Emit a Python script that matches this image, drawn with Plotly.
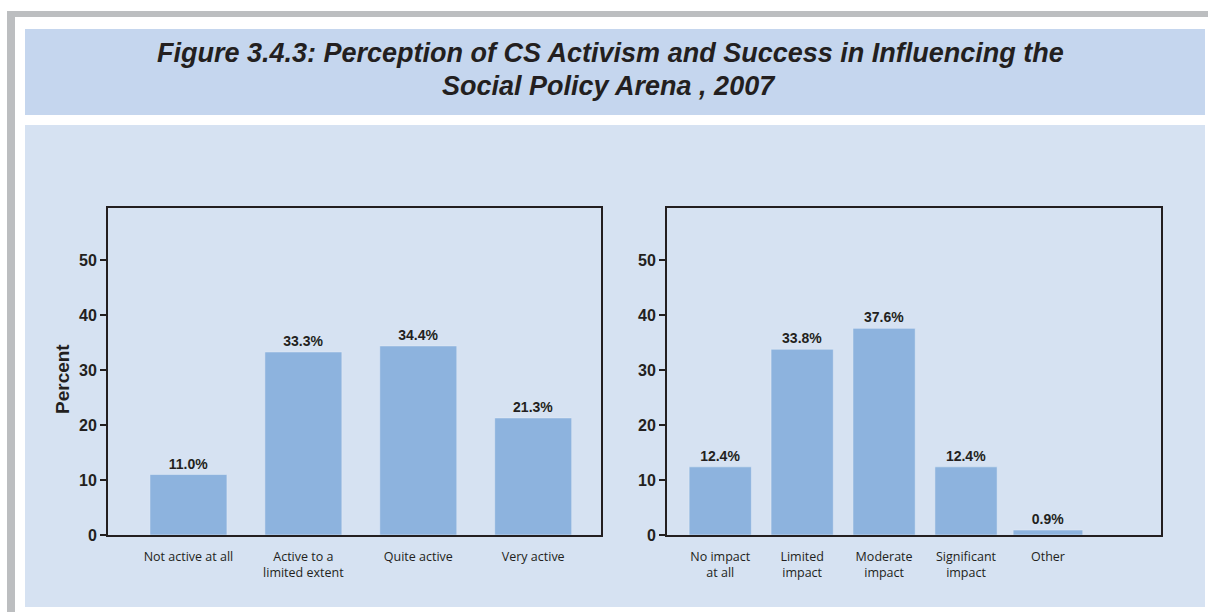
import plotly.graph_objects as go

# Survey results (percent of respondents)
activism_labels = ["Not active at all", "Active to a<br>limited extent", "Quite active", "Very active"]
activism_values = [11.0, 33.3, 34.4, 21.3]

impact_labels = ["No impact<br>at all", "Limited<br>impact", "Moderate<br>impact", "Significant<br>impact", "Other"]
impact_values = [12.4, 33.8, 37.6, 12.4, 0.9]

y_ticks = [0, 10, 20, 30, 40, 50]

W, H = 1208, 612
INK = "#231f20"
BAR = "#8db3de"
TITLE_BG = "#c5d6ee"
PANEL_BG = "#d6e2f2"
GREY = "#bcbec0"


def px(x):
    return x / W


def py(y):
    return 1 - y / H


fig = go.Figure()

value_font = dict(family="Liberation Sans, Arial", size=14, color=INK, weight="bold")

fig.add_trace(go.Bar(
    x=activism_labels, y=activism_values, marker_color=BAR, width=0.67,
    text=[f"{v:.1f}%" for v in activism_values], textposition="outside",
    textfont=value_font, cliponaxis=False, xaxis="x", yaxis="y", hoverinfo="x+y",
))
fig.add_trace(go.Bar(
    x=impact_labels, y=impact_values, marker_color=BAR,
    width=[0.76, 0.76, 0.76, 0.76, 0.85],
    text=[f"{v:.1f}%" for v in impact_values], textposition="outside",
    textfont=value_font, cliponaxis=False, xaxis="x2", yaxis="y2", hoverinfo="x+y",
))

y_bottom, y_top = py(535), py(208)

xaxis_common = dict(
    type="category", showline=True, linecolor=INK, linewidth=2, mirror=True,
    ticks="outside", ticklen=9, tickcolor="rgba(0,0,0,0)", showgrid=False,
    tickfont=dict(family="Open Sans, Liberation Sans", size=12.5, color=INK),
    fixedrange=True, automargin=False,
)
yaxis_common = dict(
    range=[0, 59.5], tickvals=y_ticks, showline=True, linecolor=INK, linewidth=2,
    mirror=True, ticks="outside", ticklen=6, tickwidth=1.5, tickcolor=INK,
    showgrid=False, zeroline=False,
    tickfont=dict(family="Liberation Sans, Arial", size=16, color=INK, weight="bold"),
    domain=[y_bottom, y_top], fixedrange=True, automargin=False,
)

fig.update_layout(
    width=W, height=H,
    margin=dict(l=0, r=0, t=0, b=0, autoexpand=False),
    paper_bgcolor="white",
    plot_bgcolor="rgba(0,0,0,0)",
    showlegend=False,
    xaxis=dict(xaxis_common, domain=[px(108), px(601)], range=[-0.70, 3.59], anchor="y"),
    yaxis=dict(yaxis_common, anchor="x"),
    xaxis2=dict(xaxis_common, domain=[px(667), px(1161)], range=[-0.65, 5.38], anchor="y2"),
    yaxis2=dict(yaxis_common, anchor="x2"),
)

# Page frame and background boxes
fig.add_shape(type="rect", xref="paper", yref="paper", layer="below",
              x0=px(7), x1=px(1208), y0=py(17), y1=py(11), fillcolor=GREY, line_width=0)
fig.add_shape(type="rect", xref="paper", yref="paper", layer="below",
              x0=px(7), x1=px(15), y0=py(612), y1=py(11), fillcolor=GREY, line_width=0)
fig.add_shape(type="rect", xref="paper", yref="paper", layer="below",
              x0=px(25), x1=px(1205), y0=py(115), y1=py(29), fillcolor=TITLE_BG, line_width=0)
fig.add_shape(type="rect", xref="paper", yref="paper", layer="below",
              x0=px(25), x1=px(1205), y0=py(607), y1=py(125), fillcolor=PANEL_BG, line_width=0)

title_font = dict(family="Liberation Sans, Arial", size=27, color=INK, weight="bold", style="italic")
fig.add_annotation(text="Figure 3.4.3: Perception of CS Activism and Success in Influencing the",
                   xref="paper", yref="paper", x=px(611), y=py(53), showarrow=False,
                   xanchor="center", yanchor="middle", font=title_font)
fig.add_annotation(text="Social Policy Arena , 2007",
                   xref="paper", yref="paper", x=px(609), y=py(86), showarrow=False,
                   xanchor="center", yanchor="middle", font=title_font)

fig.add_annotation(text="Percent", xref="paper", yref="paper", x=px(62), y=py(379),
                   showarrow=False, textangle=-90, xanchor="center", yanchor="middle",
                   font=dict(family="Liberation Sans, Arial", size=19, color=INK, weight="bold"))

fig.write_html("out.html")
